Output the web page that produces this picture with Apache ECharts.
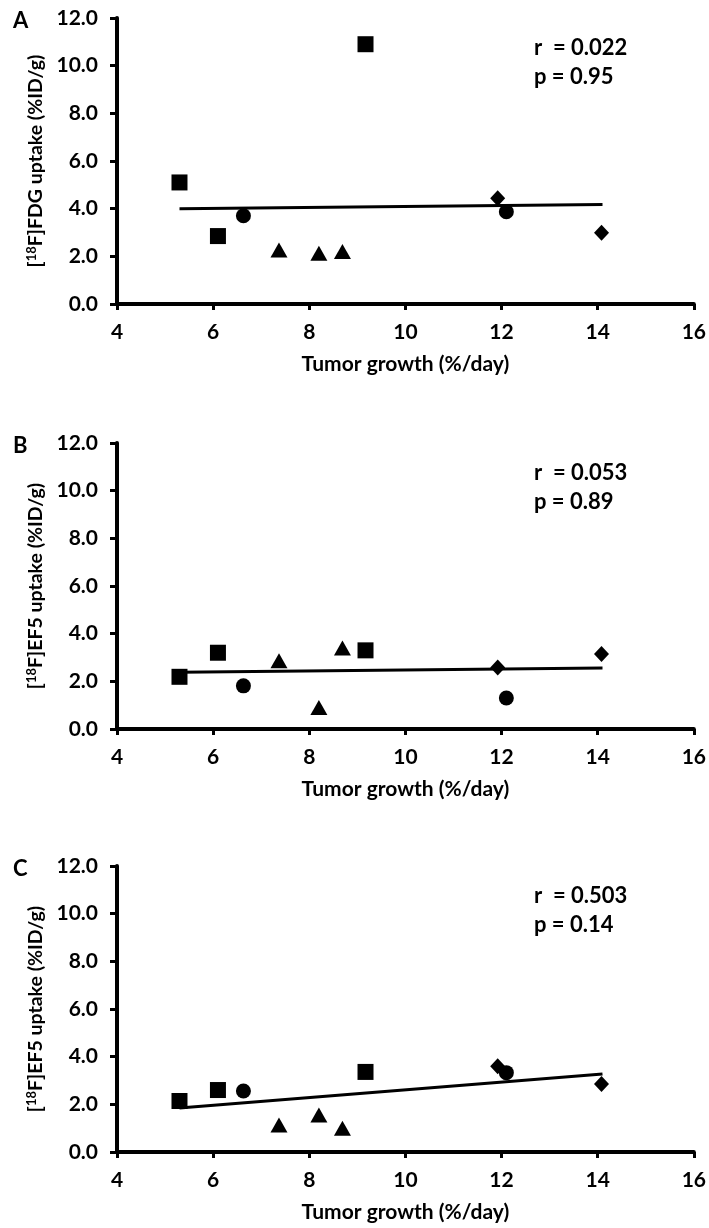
<!DOCTYPE html>
<html>
<head>
<meta charset="utf-8">
<script src="https://cdn.jsdelivr.net/npm/echarts@6/dist/echarts.min.js"></script>
<style>
  html, body { margin: 0; padding: 0; background: #fff; }
  #chart { width: 709px; height: 1228px; }
</style>
</head>
<body>
<div id="chart"></div>
<script>
// tumor growth (%/day) per marker group, same animals in all panels
const squareX = [5.3, 6.1, 9.17];
const circleX = [6.63, 12.1];
const triangleX = [7.37, 8.2, 8.69];
const diamondX = [11.92, 14.08];

// panel A: [18F]FDG
const fdgSquare = [5.1, 2.85, 10.9];
const fdgCircle = [3.7, 3.87];
const fdgTriangle = [2.27, 2.13, 2.2];
const fdgDiamond = [4.44, 2.99];
// panel B: [18F]EF5
const ef5bSquare = [2.19, 3.2, 3.3];
const ef5bCircle = [1.81, 1.3];
const ef5bTriangle = [2.86, 0.9, 3.4];
const ef5bDiamond = [2.58, 3.15];
// panel C: [18F]EF5
const ef5cSquare = [2.14, 2.6, 3.36];
const ef5cCircle = [2.56, 3.33];
const ef5cTriangle = [1.13, 1.55, 1.0];
const ef5cDiamond = [3.6, 2.85];

// trend line end points
const fitX = [5.3, 14.1];
const fdgFit = [4.0, 4.18];
const ef5bFit = [2.38, 2.56];
const ef5cFit = [1.85, 3.27];

const panelLabels = ['A', 'B', 'C'];
const yNames = ['[{sup|18}F]FDG uptake (%ID/g)', '[{sup|18}F]EF5 uptake (%ID/g)', '[{sup|18}F]EF5 uptake (%ID/g)'];
const rTexts = ['r  = 0.022', 'r  = 0.053', 'r  = 0.503'];
const pTexts = ['p = 0.95', 'p = 0.89', 'p = 0.14'];

const panels = [
  { sq: fdgSquare, ci: fdgCircle, tr: fdgTriangle, di: fdgDiamond, fit: fdgFit },
  { sq: ef5bSquare, ci: ef5bCircle, tr: ef5bTriangle, di: ef5bDiamond, fit: ef5bFit },
  { sq: ef5cSquare, ci: ef5cCircle, tr: ef5cTriangle, di: ef5cDiamond, fit: ef5cFit }
];

const FONT = 'Lato';
const tops = [18, 443, 866];
const zip = (xs, ys) => xs.map((x, i) => [x, ys[i]]);

const grid = [], xAxis = [], yAxis = [], series = [], graphic = [];

tops.forEach((top, i) => {
  grid.push({ left: 117, width: 578, top: top, height: 286 });
  xAxis.push({
    type: 'value', gridIndex: i, min: 4, max: 16, interval: 2,
    name: 'Tumor growth (%/day)', nameLocation: 'middle', nameGap: 50,
    nameTextStyle: { fontFamily: FONT, fontWeight: 'bold', fontSize: 21, color: '#000' },
    axisLine: { lineStyle: { color: '#000', width: 4 } },
    axisTick: { length: 6, lineStyle: { color: '#000', width: 3 } },
    axisLabel: { fontFamily: FONT, fontWeight: 'bold', fontSize: 21, color: '#000', margin: 18 },
    splitLine: { show: false }
  });
  yAxis.push({
    type: 'value', gridIndex: i, min: 0, max: 12, interval: 2,
    name: yNames[i], nameLocation: 'middle', nameGap: 71, nameRotate: 90,
    nameTextStyle: {
      fontFamily: FONT, fontWeight: 'bold', fontSize: 19.5, color: '#000',
      rich: { sup: { fontFamily: FONT, fontWeight: 'bold', fontSize: 13, color: '#000', verticalAlign: 'top', padding: [0, 0, 6, 0] } }
    },
    axisLine: { show: true, lineStyle: { color: '#000', width: 4 } },
    axisTick: { show: true, length: 7, lineStyle: { color: '#000', width: 3 } },
    axisLabel: { fontFamily: FONT, fontWeight: 'bold', fontSize: 21, color: '#000', margin: 19,
      formatter: v => v.toFixed(1) },
    splitLine: { show: false }
  });

  const p = panels[i];
  series.push({
    type: 'line', xAxisIndex: i, yAxisIndex: i, data: zip(fitX, p.fit),
    symbol: 'none', lineStyle: { color: '#000', width: 3 }, z: 2, silent: true
  });
  const marker = (xs, ys, symbol, size) => ({
    type: 'scatter', xAxisIndex: i, yAxisIndex: i, data: zip(xs, ys),
    symbol: symbol, symbolSize: size, itemStyle: { color: '#000', opacity: 1 }, z: 3
  });
  series.push(marker(squareX, p.sq, 'rect', 16));
  series.push(marker(circleX, p.ci, 'circle', 15));
  series.push(marker(triangleX, p.tr, 'triangle', [17, 15]));
  series.push(marker(diamondX, p.di, 'diamond', [15, 16]));

  graphic.push({
    type: 'text', left: 13, top: top - 8,
    style: { text: panelLabels[i], fontFamily: FONT, fontWeight: 'bold', fontSize: 22, fill: '#000' }
  });
  graphic.push({
    type: 'text', left: 534, top: top + 15,
    style: { text: rTexts[i] + '\n' + pTexts[i], fontFamily: FONT, fontWeight: 'bold', fontSize: 22,
      lineHeight: 29, fill: '#000' }
  });
});

const chart = echarts.init(document.getElementById('chart'), null, { renderer: 'canvas' });
chart.setOption({
  backgroundColor: '#fff',
  animation: false,
  grid, xAxis, yAxis, series, graphic
});
</script>
</body>
</html>
